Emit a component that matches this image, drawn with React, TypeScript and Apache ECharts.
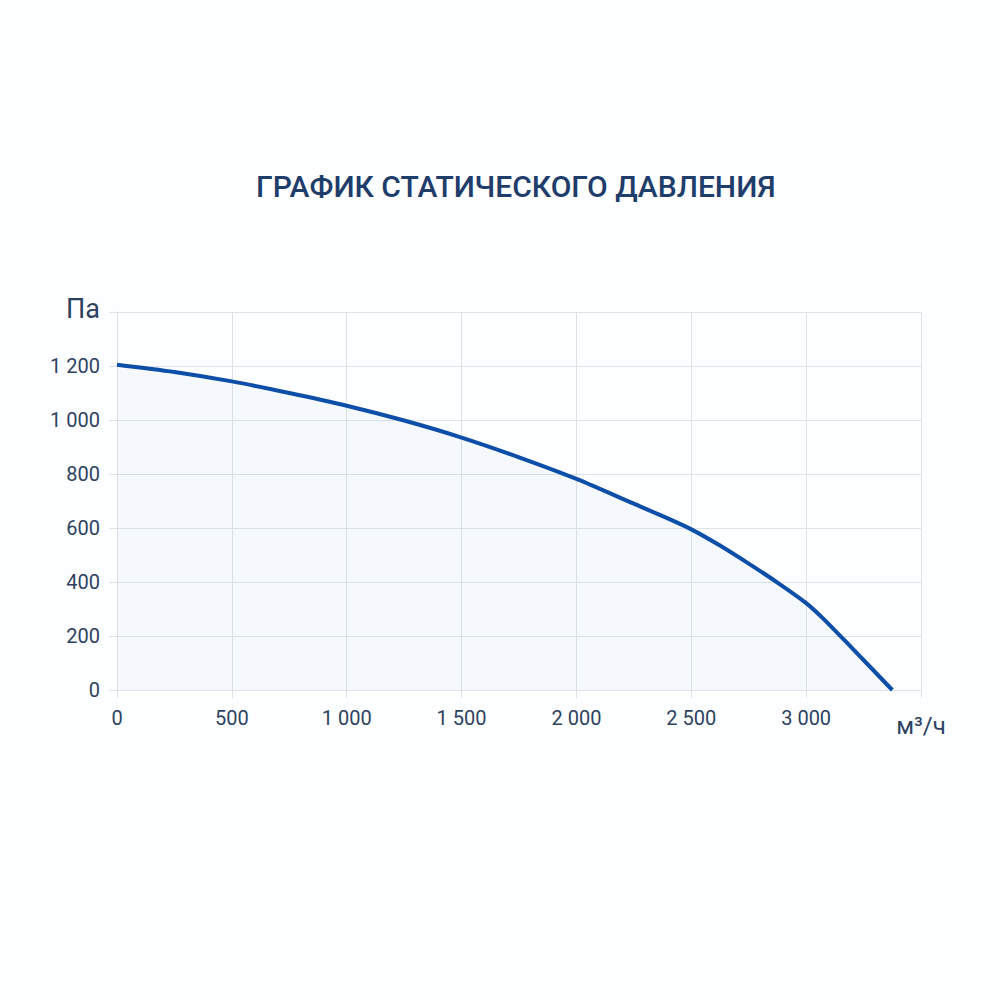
import React, { useEffect, useRef } from 'react';
import * as echarts from 'echarts';

// flow rate, m³/h
const flow = [0, 250, 500, 750, 1000, 1250, 1500, 1750, 2000, 2250, 2375, 2500, 2625, 2750, 2875, 3000, 3070, 3200, 3375];
// static pressure, Pa
const pressure = [1205, 1178, 1143, 1100, 1053, 998, 935, 862, 782, 690, 644, 595, 535, 468, 398, 322, 268, 155, 0];

const xTicks = { min: 0, max: 3500, step: 500 };
const yTicks = { min: 0, max: 1400, step: 200 };

const TITLE = 'ГРАФИК СТАТИЧЕСКОГО ДАВЛЕНИЯ';
const X_UNIT = 'м³/ч';
const Y_UNIT = 'Па';

const fmt = (v: number) => String(v).replace(/\B(?=(\d{3})+(?!\d))/g, ' ');

export default function App() {
  const chartRef = useRef<HTMLDivElement>(null);

  useEffect(() => {
    if (!chartRef.current) return;
    const chart = echarts.init(chartRef.current, undefined, { renderer: 'svg' });

    const gridColor = '#dfe3e8';
    const labelColor = '#2d4261';

    chart.setOption({
      animation: false,
      backgroundColor: '#fdfeff',
      textStyle: { fontFamily: 'Roboto, sans-serif' },
      title: {
        text: TITLE,
        left: 251,
        top: 166,
        textStyle: { fontSize: 30, fontWeight: 500, color: '#1f3d6b', fontFamily: 'Roboto, sans-serif' },
      },
      grid: { left: 117, right: 79, top: 312, bottom: 310, containLabel: false },
      xAxis: {
        type: 'value',
        min: xTicks.min,
        max: xTicks.max,
        interval: xTicks.step,
        axisLine: { show: true, lineStyle: { color: gridColor } },
        axisTick: { show: true, length: 8, lineStyle: { color: gridColor } },
        splitLine: { show: true, lineStyle: { color: gridColor } },
        axisLabel: {
          margin: 18,
          fontSize: 20,
          color: labelColor,
          formatter: (v: number) => (v === xTicks.max ? `{u|${X_UNIT}}` : fmt(v)),
          rich: { u: { fontSize: 24, color: labelColor, padding: [6, 0, 0, 0] } },
        },
      },
      yAxis: {
        type: 'value',
        min: yTicks.min,
        max: yTicks.max,
        interval: yTicks.step,
        axisLine: { show: true, lineStyle: { color: gridColor } },
        axisTick: { show: true, length: 8, lineStyle: { color: gridColor } },
        splitLine: { show: true, lineStyle: { color: gridColor } },
        axisLabel: {
          margin: 17,
          fontSize: 20,
          color: labelColor,
          formatter: (v: number) => (v === yTicks.max ? `{u|${Y_UNIT}}` : fmt(v)),
          rich: { u: { fontSize: 27, color: labelColor, padding: [0, 0, 6, 0] } },
        },
      },
      series: [
        {
          type: 'line',
          smooth: 0.3,
          symbol: 'none',
          data: flow.map((x, i) => [x, pressure[i]]),
          lineStyle: { color: '#0c4ea8', width: 4 },
          areaStyle: { color: 'rgba(40, 100, 200, 0.05)' },
        },
      ],
    });

    return () => chart.dispose();
  }, []);

  return <div ref={chartRef} style={{ position: 'fixed', left: 0, top: 0, width: 1000, height: 1000 }} />;
}
